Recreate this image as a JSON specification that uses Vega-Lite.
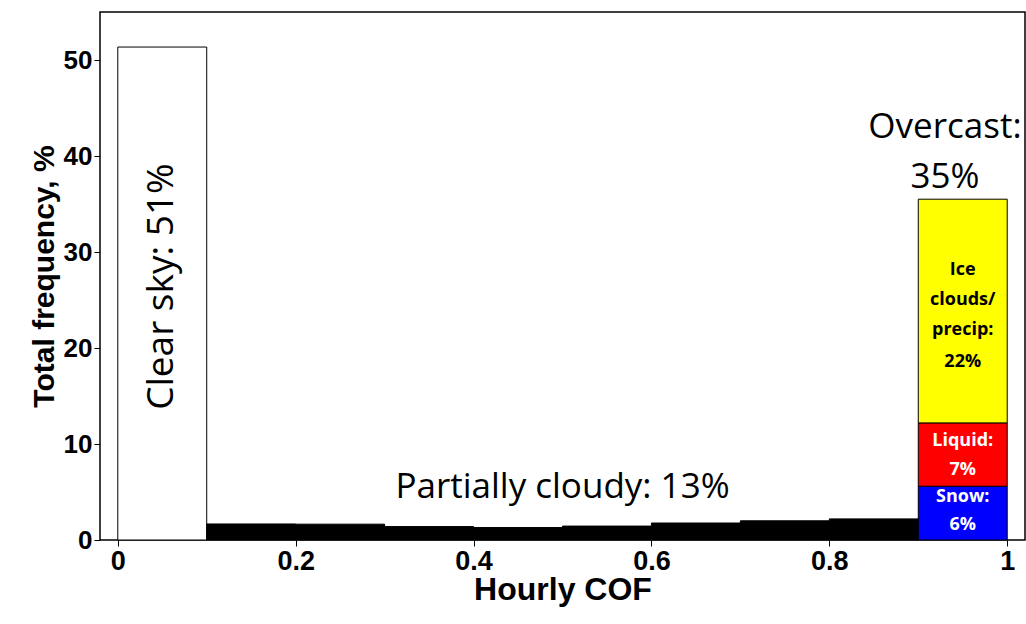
{
  "$schema": "https://vega.github.io/schema/vega-lite/v6.json",
  "width": 925,
  "height": 528,
  "autosize": "none",
  "padding": {"left": 100, "top": 12, "right": 1, "bottom": 84},
  "background": "white",
  "config": {"view": {"stroke": "black", "strokeWidth": 1.5}},
  "layer": [
    {
      "data": {"values": [
        {"x0": 0.0, "x1": 0.1, "y0": 0, "y1": 51.35, "cat": "clear"},
        {"x0": 0.1, "x1": 0.2, "y0": 0, "y1": 1.67, "cat": "partial"},
        {"x0": 0.2, "x1": 0.3, "y0": 0, "y1": 1.65, "cat": "partial"},
        {"x0": 0.3, "x1": 0.4, "y0": 0, "y1": 1.4, "cat": "partial"},
        {"x0": 0.4, "x1": 0.5, "y0": 0, "y1": 1.3, "cat": "partial"},
        {"x0": 0.5, "x1": 0.6, "y0": 0, "y1": 1.45, "cat": "partial"},
        {"x0": 0.6, "x1": 0.7, "y0": 0, "y1": 1.77, "cat": "partial"},
        {"x0": 0.7, "x1": 0.8, "y0": 0, "y1": 2.0, "cat": "partial"},
        {"x0": 0.8, "x1": 0.9, "y0": 0, "y1": 2.2, "cat": "partial"},
        {"x0": 0.9, "x1": 1.0, "y0": 0, "y1": 5.6, "cat": "snow"},
        {"x0": 0.9, "x1": 1.0, "y0": 5.6, "y1": 12.2, "cat": "liquid"},
        {"x0": 0.9, "x1": 1.0, "y0": 12.2, "y1": 35.5, "cat": "ice"}
      ]},
      "mark": {"type": "bar", "stroke": "black", "strokeWidth": 1},
      "encoding": {
        "x": {"field": "x0", "type": "quantitative",
          "scale": {"domain": [-0.02, 1.02], "nice": false},
          "axis": {"values": [0, 0.2, 0.4, 0.6, 0.8, 1], "format": "~g", "grid": false,
            "title": "Hourly COF", "titleFont": "Liberation Sans", "titleFontSize": 32, "titleFontWeight": "bold",
            "titlePadding": 0, "labelFont": "Liberation Sans", "labelFontSize": 27, "labelFontWeight": "bold",
            "labelColor": "black", "titleColor": "black", "domain": false, "tickColor": "black", "tickSize": 6, "labelPadding": 2}},
        "x2": {"field": "x1"},
        "y": {"field": "y0", "type": "quantitative",
          "scale": {"domain": [0, 55], "nice": false},
          "axis": {"values": [0, 10, 20, 30, 40, 50], "grid": false,
            "title": "Total frequency, %", "titleFont": "Liberation Sans", "titleFontSize": 30, "titleFontWeight": "bold",
            "titlePadding": 4, "labelFont": "Liberation Sans", "labelFontSize": 26, "labelFontWeight": "bold",
            "labelColor": "black", "titleColor": "black", "domain": false, "tickColor": "black", "tickSize": 6}},
        "y2": {"field": "y1"},
        "color": {"field": "cat", "type": "nominal", "legend": null,
          "scale": {"domain": ["clear", "partial", "snow", "liquid", "ice"],
            "range": ["white", "black", "#0000ff", "#ff0000", "#ffff00"]}}
      }
    },
    {
      "data": {"values": [
        {"x": 0.05, "y": 26.4, "label": "Clear sky: 51%"}
      ]},
      "mark": {"type": "text", "angle": 270, "font": "Open Sans", "fontSize": 37, "color": "black"},
      "encoding": {
        "x": {"field": "x", "type": "quantitative"},
        "y": {"field": "y", "type": "quantitative"},
        "text": {"field": "label"}
      }
    },
    {
      "data": {"values": [
        {"x": 0.5, "y": 5.5, "label": "Partially cloudy: 13%"},
        {"x": 0.93, "y": 43.0, "label": "Overcast:"},
        {"x": 0.93, "y": 37.8, "label": "35%"}
      ]},
      "mark": {"type": "text", "font": "Open Sans", "fontSize": 35, "color": "black"},
      "encoding": {
        "x": {"field": "x", "type": "quantitative"},
        "y": {"field": "y", "type": "quantitative"},
        "text": {"field": "label"}
      }
    },
    {
      "data": {"values": [
        {"x": 0.95, "y": 28.1, "label": "Ice", "c": "black"},
        {"x": 0.95, "y": 25.0, "label": "clouds/", "c": "black"},
        {"x": 0.95, "y": 21.9, "label": "precip:", "c": "black"},
        {"x": 0.95, "y": 18.5, "label": "22%", "c": "black"},
        {"x": 0.95, "y": 10.3, "label": "Liquid:", "c": "white"},
        {"x": 0.95, "y": 7.3, "label": "7%", "c": "white"},
        {"x": 0.95, "y": 4.5, "label": "Snow:", "c": "white"},
        {"x": 0.95, "y": 1.6, "label": "6%", "c": "white"}
      ]},
      "mark": {"type": "text", "font": "Open Sans", "fontSize": 18, "fontWeight": "bold"},
      "encoding": {
        "x": {"field": "x", "type": "quantitative"},
        "y": {"field": "y", "type": "quantitative"},
        "text": {"field": "label"},
        "color": {"field": "c", "type": "nominal", "scale": null}
      }
    }
  ]
}
